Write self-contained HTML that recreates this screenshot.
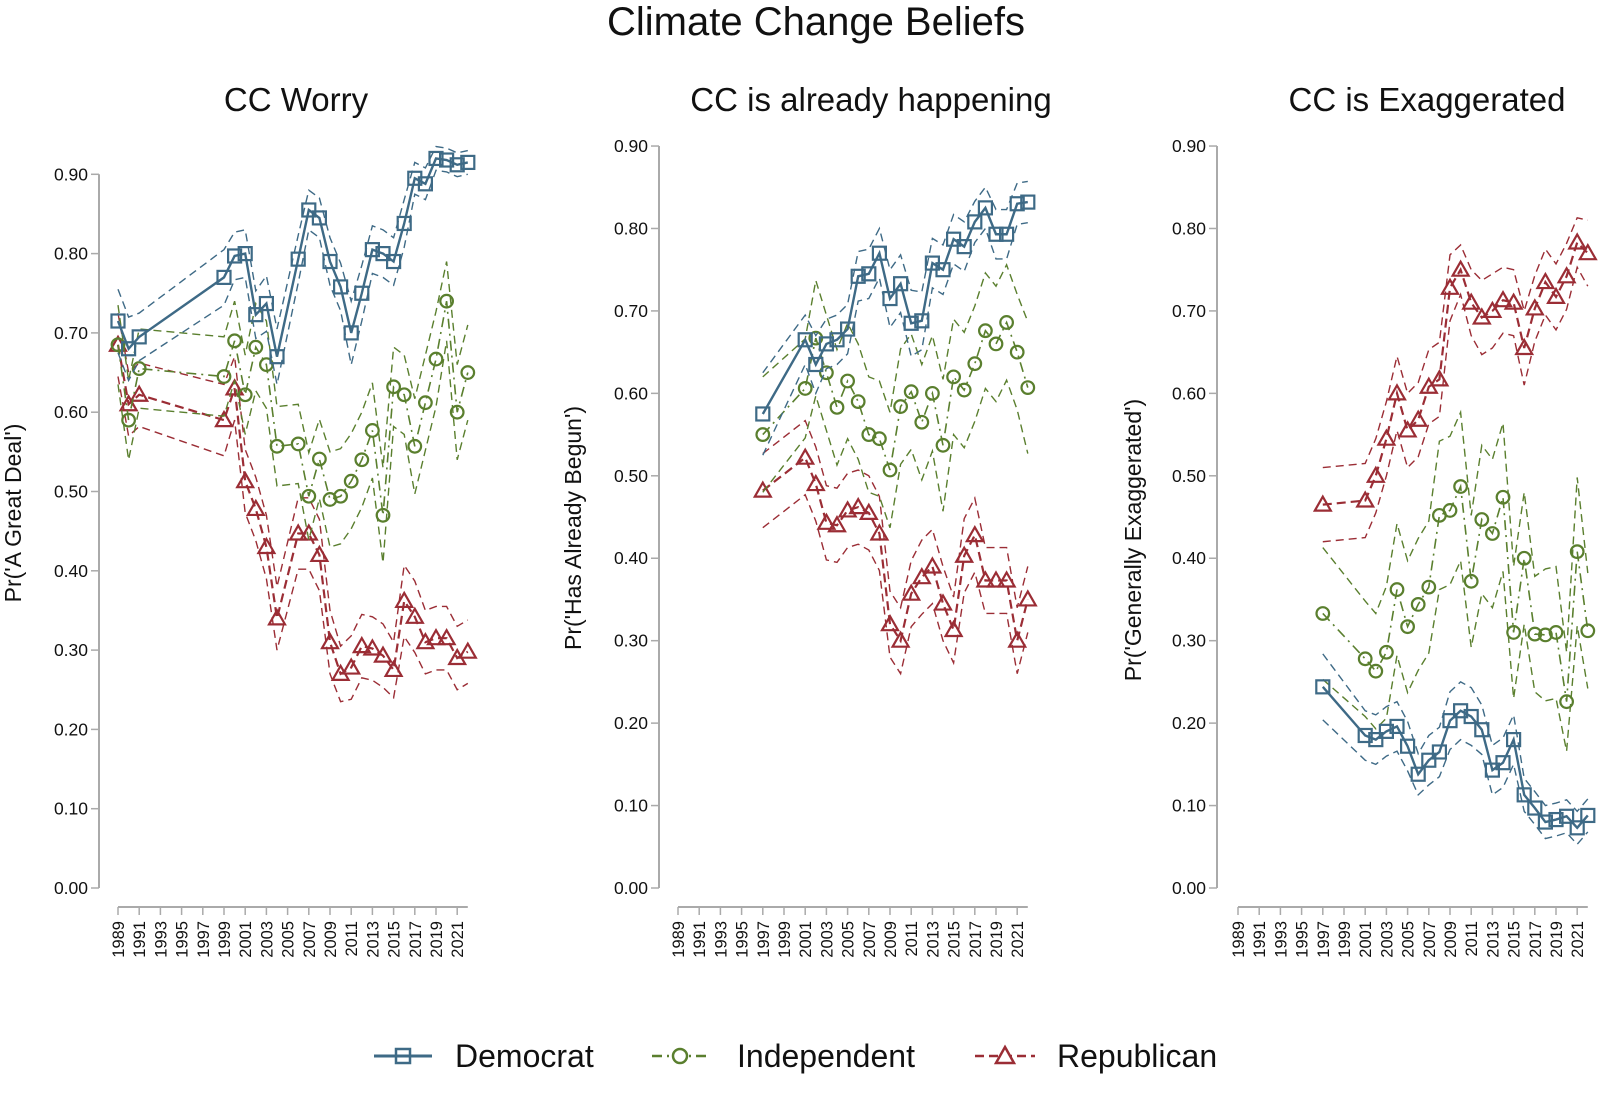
<!DOCTYPE html>
<html><head><meta charset="utf-8"><style>
body{margin:0;background:#fff;}
svg text{font-family:"Liberation Sans",sans-serif;}
</style></head><body>
<svg id="chart" width="1600" height="1090" viewBox="0 0 1600 1090" xmlns="http://www.w3.org/2000/svg">
<text x="816" y="35" font-size="40" text-anchor="middle" fill="#111">Climate Change Beliefs</text>
<g id="legend">
 <g>
  <line x1="374" y1="1056" x2="432" y2="1056" stroke="#3e6a86" stroke-width="3"/>
  <rect x="396" y="1049" width="14" height="14" fill="none" stroke="#3e6a86" stroke-width="2.5"/>
  <text x="455" y="1067" font-size="32" fill="#111">Democrat</text>
 </g>
 <g>
  <line x1="652" y1="1056" x2="708" y2="1056" stroke="#5a7f2e" stroke-width="2.5" stroke-dasharray="10,5,2,5"/>
  <circle cx="680" cy="1056" r="7" fill="#fff" stroke="#5a7f2e" stroke-width="2.5"/>
  <text x="737" y="1067" font-size="32" fill="#111">Independent</text>
 </g>
 <g>
  <line x1="975" y1="1056" x2="1035" y2="1056" stroke="#9b2d35" stroke-width="2.5" stroke-dasharray="9,5"/>
  <polygon points="1005,1047 1014,1063 996,1063" fill="#fff" stroke="#9b2d35" stroke-width="2.5"/>
  <text x="1057" y="1067" font-size="32" fill="#111">Republican</text>
 </g>
</g>
</svg>
<script>
// ---- Panel 1: CC Worry ----
const worryYears = [1989,1990,1991,1999,2000,2001,2002,2003,2004,2006,2007,2008,2009,2010,2011,2012,2013,2014,2015,2016,2017,2018,2019,2020,2021,2022];
const worryDem = [0.715,0.68,0.695,0.77,0.797,0.80,0.723,0.737,0.67,0.793,0.855,0.845,0.79,0.758,0.70,0.75,0.805,0.80,0.79,0.838,0.895,0.888,0.92,0.918,0.912,0.915];
const worryInd = [0.685,0.59,0.655,0.645,0.69,0.622,0.682,0.66,0.557,0.56,0.494,0.541,0.49,0.494,0.513,0.54,0.577,0.47,0.632,0.622,0.557,0.612,0.667,0.74,0.60,0.65];
const worryRep = [0.685,0.61,0.622,0.59,0.63,0.513,0.478,0.43,0.34,0.447,0.447,0.42,0.31,0.27,0.278,0.305,0.302,0.293,0.275,0.362,0.342,0.31,0.315,0.315,0.29,0.298];
const worryDemCI = [0.04,0.04,0.03,0.035,0.03,0.03,0.03,0.035,0.035,0.03,0.025,0.025,0.03,0.03,0.04,0.035,0.03,0.03,0.03,0.03,0.02,0.02,0.015,0.015,0.015,0.015];
const worryIndCI = [0.05,0.05,0.05,0.05,0.05,0.05,0.055,0.055,0.05,0.05,0.055,0.05,0.06,0.06,0.06,0.06,0.06,0.06,0.05,0.05,0.06,0.06,0.06,0.05,0.06,0.06];
const worryRepCI = [0.04,0.04,0.04,0.045,0.04,0.04,0.04,0.04,0.04,0.045,0.045,0.045,0.04,0.035,0.04,0.04,0.04,0.04,0.035,0.045,0.045,0.04,0.04,0.04,0.04,0.04];
// ---- Panel 2: CC is already happening ----
const happenYears = [1997,2001,2002,2003,2004,2005,2006,2007,2008,2009,2010,2011,2012,2013,2014,2015,2016,2017,2018,2019,2020,2021,2022];
const happenDem = [0.575,0.665,0.635,0.66,0.665,0.678,0.742,0.745,0.77,0.715,0.733,0.685,0.688,0.758,0.75,0.787,0.778,0.808,0.825,0.793,0.793,0.83,0.832];
const happenInd = [0.55,0.606,0.667,0.625,0.583,0.615,0.59,0.55,0.545,0.507,0.584,0.602,0.565,0.60,0.537,0.62,0.604,0.636,0.676,0.66,0.686,0.65,0.607];
const happenRep = [0.482,0.522,0.49,0.443,0.44,0.458,0.462,0.455,0.43,0.32,0.30,0.357,0.377,0.39,0.345,0.313,0.403,0.428,0.373,0.373,0.373,0.30,0.35];
const happenDemCI = [0.05,0.03,0.035,0.03,0.03,0.03,0.03,0.03,0.03,0.035,0.035,0.04,0.035,0.03,0.03,0.03,0.03,0.025,0.025,0.03,0.03,0.025,0.025];
const happenIndCI = [0.07,0.06,0.07,0.07,0.07,0.07,0.07,0.07,0.07,0.07,0.07,0.07,0.07,0.07,0.08,0.07,0.07,0.07,0.07,0.07,0.07,0.07,0.08];
const happenRepCI = [0.045,0.045,0.045,0.045,0.045,0.045,0.045,0.045,0.045,0.04,0.04,0.04,0.045,0.045,0.045,0.04,0.045,0.045,0.04,0.04,0.04,0.04,0.04];
// ---- Panel 3: CC is Exaggerated ----
const exagYears = [1997,2001,2002,2003,2004,2005,2006,2007,2008,2009,2010,2011,2012,2013,2014,2015,2016,2017,2018,2019,2020,2021,2022];
const exagDem = [0.244,0.185,0.18,0.19,0.196,0.172,0.138,0.155,0.165,0.203,0.215,0.208,0.192,0.143,0.152,0.18,0.113,0.097,0.08,0.083,0.087,0.073,0.088];
const exagInd = [0.333,0.278,0.263,0.286,0.362,0.317,0.344,0.365,0.452,0.458,0.487,0.372,0.447,0.43,0.474,0.31,0.40,0.308,0.307,0.31,0.226,0.408,0.312];
const exagRep = [0.465,0.47,0.50,0.545,0.60,0.555,0.568,0.608,0.617,0.728,0.75,0.71,0.692,0.70,0.713,0.71,0.655,0.703,0.735,0.717,0.742,0.783,0.77];
const exagDemCI = [0.04,0.03,0.03,0.03,0.03,0.03,0.025,0.03,0.03,0.035,0.035,0.035,0.03,0.03,0.03,0.03,0.02,0.02,0.02,0.02,0.02,0.02,0.02];
const exagIndCI = [0.08,0.07,0.07,0.08,0.08,0.08,0.08,0.08,0.09,0.09,0.09,0.08,0.09,0.09,0.09,0.08,0.08,0.07,0.08,0.08,0.06,0.09,0.07];
const exagRepCI = [0.045,0.045,0.045,0.045,0.045,0.045,0.045,0.045,0.045,0.04,0.03,0.04,0.045,0.045,0.04,0.04,0.045,0.04,0.04,0.04,0.04,0.03,0.04];

const yTicks = [0,0.1,0.2,0.3,0.4,0.5,0.6,0.7,0.8,0.9];
const xTickYears = [1989,1991,1993,1995,1997,1999,2001,2003,2005,2007,2009,2011,2013,2015,2017,2019,2021];

const NS = "http://www.w3.org/2000/svg";
const svg = document.getElementById('chart');
const COL = {dem:'#3e6a86', ind:'#5a7f2e', rep:'#9b2d35'};

function mk(tag, attrs, parent){
  const e = document.createElementNS(NS, tag);
  for (const k in attrs) e.setAttribute(k, attrs[k]);
  parent.appendChild(e);
  return e;
}

function drawPanel(cfg){
  const g = mk('g', {}, svg);
  
  
  const xs = yr => cfg.x1989 + (yr - 1989) * 10.6;
  const ys = v => cfg.y0 - v * cfg.unit;
  const t = mk('text', {x: cfg.titleX, y: 111, 'font-size': 33, 'text-anchor': 'middle', fill: '#111'}, g);
  t.textContent = cfg.title;
  
  
  const ya = mk('g', {}, g);
  
  
  mk('line', {x1: cfg.ax, x2: cfg.ax, y1: ys(0.9), y2: ys(0), stroke: '#aaa', 'stroke-width': 2}, ya);
  yTicks.forEach(v => {
    mk('line', {x1: cfg.ax - 8, x2: cfg.ax, y1: ys(v), y2: ys(v), stroke: '#aaa', 'stroke-width': 1.5}, ya);
    const l = mk('text', {x: cfg.ax - 11, y: ys(v) + 6, 'font-size': 17.5, 'text-anchor': 'end', fill: '#111'}, ya);
    l.textContent = v.toFixed(2);
    
    
  });
  const yt = mk('text', {x: cfg.ytX, y: cfg.ytY, 'font-size': 23, 'text-anchor': 'middle', fill: '#111', transform: `rotate(-90 ${cfg.ytX} ${cfg.ytY})`}, ya);
  yt.textContent = cfg.ytitle;
  
  
  const xa = mk('g', {}, g);
  
  
  mk('line', {x1: xs(1989), x2: xs(2022), y1: 907, y2: 907, stroke: '#aaa', 'stroke-width': 2}, xa);
  xTickYears.forEach(yr => {
    mk('line', {x1: xs(yr), x2: xs(yr), y1: 907, y2: 915, stroke: '#aaa', 'stroke-width': 1.5}, xa);
    const l = mk('text', {x: xs(yr) + 6, y: 921, 'font-size': 16.5, 'text-anchor': 'end', fill: '#111', transform: `rotate(-90 ${xs(yr) + 6} 921)`}, xa);
    l.textContent = yr;
    
    
  });
  const series = [
    {key:'rep', vals: cfg.rep, ci: cfg.repCI, dash:'9,5', w:2.2},
    {key:'ind', vals: cfg.ind, ci: cfg.indCI, dash:'10,5,2,5', w:1.6},
    {key:'dem', vals: cfg.dem, ci: cfg.demCI, dash:null, w:2.4}
  ];
  series.forEach(s => {
    const sg = mk('g', {}, g);
    
    
    const c = COL[s.key];
    const lo = cfg.years.map((yr,i) => xs(yr) + ',' + ys(s.vals[i] - s.ci[i])).join(' ');
    const hi = cfg.years.map((yr,i) => xs(yr) + ',' + ys(s.vals[i] + s.ci[i])).join(' ');
    const l1 = mk('polyline', {points: lo, fill: 'none', stroke: c, 'stroke-width': 1.4, 'stroke-dasharray': '8,5'}, sg);
    
    
    const l2 = mk('polyline', {points: hi, fill: 'none', stroke: c, 'stroke-width': 1.4, 'stroke-dasharray': '8,5'}, sg);
    
    
    const pts = cfg.years.map((yr,i) => xs(yr) + ',' + ys(s.vals[i])).join(' ');
    const ml = mk('polyline', {points: pts, fill: 'none', stroke: c, 'stroke-width': s.w}, sg);
    if (s.dash) ml.setAttribute('stroke-dasharray', s.dash);
    
    
    cfg.years.forEach((yr,i) => {
      const x = xs(yr), y = ys(s.vals[i]);
      let m;
      if (s.key === 'dem') m = mk('rect', {x: x-6.5, y: y-6.5, width: 13, height: 13, fill: 'none', stroke: c, 'stroke-width': 2.2}, sg);
      else if (s.key === 'ind') m = mk('circle', {cx: x, cy: y, r: 6.3, fill: 'none', stroke: c, 'stroke-width': 2.2}, sg);
      else m = mk('polygon', {points: `${x},${y-8} ${x+8},${y+6} ${x-8},${y+6}`, fill: 'none', stroke: c, 'stroke-width': 2.2}, sg);
      
      
    });
  });
}

drawPanel({name:'panel-cc-worry', title:'CC Worry', titleX:296, ax:99, x1989:118, y0:888, unit:793,
  ytitle:"Pr('A Great Deal')", ytX:21, ytY:513,
  years: worryYears, dem: worryDem, ind: worryInd, rep: worryRep, demCI: worryDemCI, indCI: worryIndCI, repCI: worryRepCI});
drawPanel({name:'panel-cc-happening', title:'CC is already happening', titleX:871, ax:659, x1989:678, y0:888, unit:824.4,
  ytitle:"Pr('Has Already Begun')", ytX:581, ytY:528,
  years: happenYears, dem: happenDem, ind: happenInd, rep: happenRep, demCI: happenDemCI, indCI: happenIndCI, repCI: happenRepCI});
drawPanel({name:'panel-cc-exaggerated', title:'CC is Exaggerated', titleX:1427, ax:1217, x1989:1238, y0:888, unit:824.4,
  ytitle:"Pr('Generally Exaggerated')", ytX:1141, ytY:540,
  years: exagYears, dem: exagDem, ind: exagInd, rep: exagRep, demCI: exagDemCI, indCI: exagIndCI, repCI: exagRepCI});
</script>
</body></html>
